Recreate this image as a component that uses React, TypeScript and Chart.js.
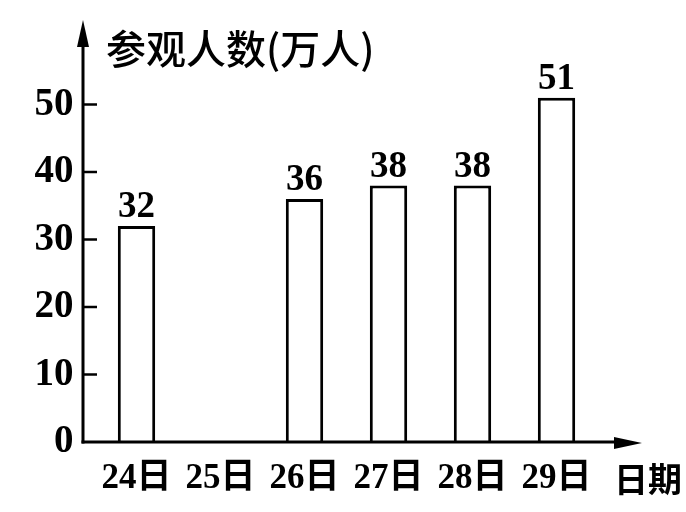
import React, { useEffect, useRef } from 'react';
import { Chart, registerables } from 'chart.js';

Chart.register(...registerables);

const categories = ['24日', '25日', '26日', '27日', '28日', '29日'];
const visitors: (number | null)[] = [32, null, 36, 38, 38, 51];
const yTickValues = [0, 10, 20, 30, 40, 50];
const yTitle = '参观人数(万人)';
const xTitle = '日期';

const NUM_FONT = "'Liberation Serif', 'Noto Sans CJK SC', serif";
const CJK_FONT = "'Noto Sans CJK SC', 'Liberation Serif', sans-serif";

const axesPlugin = {
  id: 'customAxes',
  afterDatasetsDraw(chart: any) {
    const { ctx, chartArea, scales } = chart;
    const y = scales.y;
    const y0 = y.getPixelForValue(0);
    const axisX = chartArea.left - 11.5;
    ctx.save();
    ctx.strokeStyle = '#000';
    ctx.fillStyle = '#000';
    ctx.lineCap = 'butt';
    // y axis
    ctx.lineWidth = 3;
    ctx.beginPath();
    ctx.moveTo(axisX, y0 + 1.5);
    ctx.lineTo(axisX, 40);
    ctx.stroke();
    ctx.beginPath();
    ctx.moveTo(axisX, 20);
    ctx.lineTo(axisX - 6, 47);
    ctx.lineTo(axisX + 6, 47);
    ctx.closePath();
    ctx.fill();
    // x axis
    ctx.beginPath();
    ctx.moveTo(axisX - 1.5, y0);
    ctx.lineTo(620, y0);
    ctx.stroke();
    ctx.beginPath();
    ctx.moveTo(642, y0 + 1);
    ctx.lineTo(614, y0 - 5);
    ctx.lineTo(614, y0 + 7);
    ctx.closePath();
    ctx.fill();
    // tick marks (inside)
    ctx.lineWidth = 2.5;
    yTickValues.forEach((v) => {
      if (v === 0) return;
      const py = y.getPixelForValue(v);
      ctx.beginPath();
      ctx.moveTo(axisX, py);
      ctx.lineTo(axisX + 14, py);
      ctx.stroke();
    });
    // value labels
    const meta = chart.getDatasetMeta(0);
    ctx.font = `bold 37px ${NUM_FONT}`;
    ctx.textAlign = 'center';
    ctx.textBaseline = 'alphabetic';
    meta.data.forEach((bar: any, i: number) => {
      const v = visitors[i];
      if (v == null) return;
      ctx.fillText(String(v), bar.x, bar.y - 9);
    });
    // titles
    ctx.textAlign = 'left';
    ctx.textBaseline = 'middle';
    ctx.font = `500 40px ${CJK_FONT}`;
    ctx.fillText(yTitle, 106, 49);
    ctx.font = `bold 34px ${CJK_FONT}`;
    ctx.fillText(xTitle, 614, 479);
    ctx.restore();
  },
};

export default function App() {
  const ref = useRef<HTMLCanvasElement | null>(null);
  useEffect(() => {
    if (!ref.current) return;
    const chart = new Chart(ref.current, {
      type: 'bar',
      data: {
        labels: categories,
        datasets: [
          {
            data: visitors,
            backgroundColor: '#ffffff',
            borderColor: '#000000',
            borderWidth: 3,
            borderSkipped: 'bottom',
            categoryPercentage: 1,
            barPercentage: 0.445,
          },
        ],
      },
      options: {
        animation: false,
        responsive: false,
        maintainAspectRatio: false,
        layout: { padding: { left: 0, right: 87.5, top: 37, bottom: 0 } },
        plugins: { legend: { display: false }, tooltip: { enabled: false }, title: { display: false } },
        scales: {
          x: {
            grid: { display: false, drawTicks: false },
            border: { display: false },
            ticks: {
              color: '#000',
              font: { family: NUM_FONT, size: 35, weight: 'bold' },
              padding: 16,
              maxRotation: 0,
              autoSkip: false,
            },
            afterFit: (s: any) => {
              s.height = 70;
              s.paddingLeft = 0;
              s.paddingRight = 0;
            },
          },
          y: {
            min: 0,
            max: 60,
            grid: { display: false, drawTicks: false },
            border: { display: false },
            afterBuildTicks: (s: any) => {
              s.ticks = yTickValues.map((v) => ({ value: v }));
            },
            ticks: {
              color: '#000',
              font: { family: NUM_FONT, size: 39, weight: 'bold' },
              padding: 21,
            },
            afterFit: (s: any) => {
              s.width = 94.5;
              s.paddingTop = 0;
              s.paddingBottom = 0;
            },
          },
        },
      },
      plugins: [axesPlugin],
    });
    return () => chart.destroy();
  }, []);
  return (
    <div style={{ position: 'fixed', left: 0, top: 0, width: 686, height: 512, background: '#fff' }}>
      <canvas ref={ref} width={686} height={512} style={{ width: 686, height: 512, display: 'block' }} />
    </div>
  );
}
